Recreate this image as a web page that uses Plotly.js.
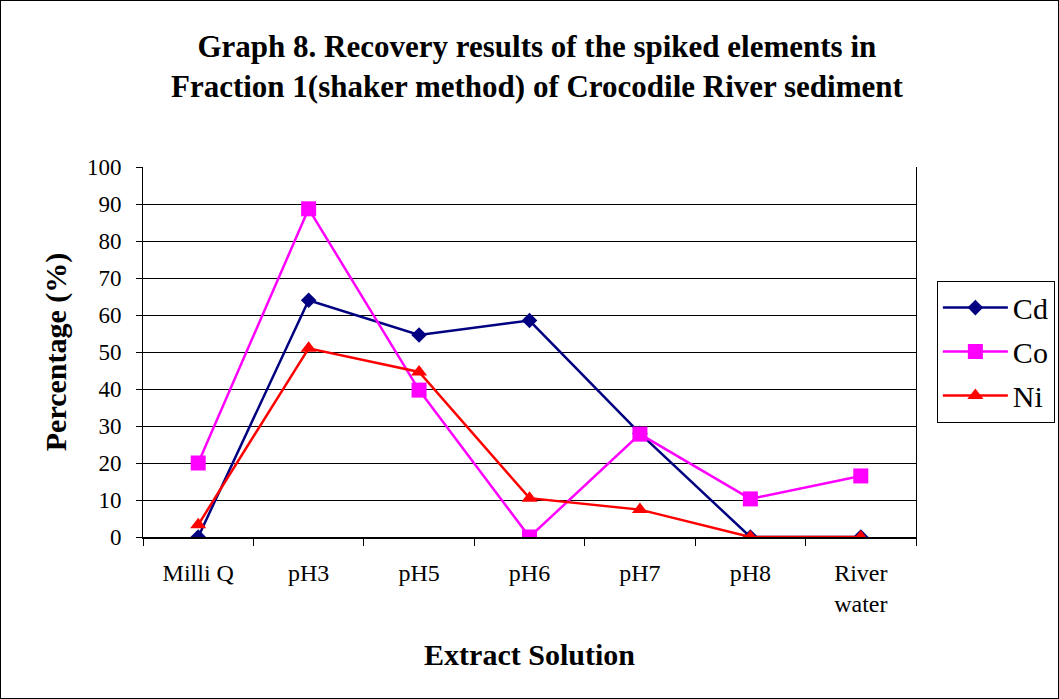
<!DOCTYPE html>
<html>
<head>
<meta charset="utf-8">
<script src="https://cdn.plot.ly/plotly-3.0.1.min.js"></script>
<style>
html,body{margin:0;padding:0;background:#fff;}
#frame{position:absolute;left:0;top:0;width:1057px;height:697px;border:1px solid #000;}
#chart{position:absolute;left:-1px;top:-1px;width:1059px;height:699px;}
</style>
</head>
<body>
<div id="frame"><div id="chart"></div></div>
<script>
const categories = ["Milli Q", "pH3", "pH5", "pH6", "pH7", "pH8", "River<br>water"];
const cd = [0, 64, 54.6, 58.5, 28, 0, 0];
const co = [20, 88.7, 39.7, 0, 27.8, 10.3, 16.5];
const ni = [3.3, 51, 44.6, 10.5, 7.4, 0, 0];

const font = "'Liberation Serif', 'Times New Roman', serif";

const traces = [
  {x: categories, y: cd, name: "Cd", legendgroup: "a", type: "scatter", mode: "lines+markers",
   line: {color: "#000080", width: 2.5}, marker: {symbol: "diamond", size: 12, color: "#000080"}},
  {x: categories, y: co, name: "Co", legendgroup: "b", type: "scatter", mode: "lines+markers",
   line: {color: "#FF00FF", width: 2.5}, marker: {symbol: "square", size: 15, color: "#FF00FF"}},
  {x: categories, y: ni, name: "Ni", legendgroup: "c", type: "scatter", mode: "lines+markers",
   line: {color: "#FF0000", width: 2.5}, marker: {symbol: "triangle-up", size: 14, color: "#FF0000"}}
];

const layout = {
  width: 1059, height: 699,
  paper_bgcolor: "rgba(0,0,0,0)", plot_bgcolor: "#fff",
  margin: {l: 143, r: 143, t: 167, b: 162, autoexpand: false},
  font: {family: font, color: "#000", size: 24},
  title: {text: "<b>Graph 8. Recovery results of the spiked elements in<br>Fraction 1(shaker method) of Crocodile River sediment</b>",
          font: {family: font, size: 31, color: "#000"}, x: 0.507, xanchor: "center", yref: "container", y: 0.919, yanchor: "middle"},
  xaxis: {
    type: "category", range: [-0.5, 6.5],
    showline: true, linecolor: "#000", linewidth: 2,
    ticks: "outside", tickson: "boundaries", ticklen: 7, tickcolor: "#000", tickwidth: 1,
    ticklabelstandoff: 13,
    showgrid: false, zeroline: false,
    tickfont: {family: font, size: 24, color: "#000"},
    title: {text: "<b>Extract Solution</b>", font: {family: font, size: 30, color: "#000"}, standoff: 28}
  },
  yaxis: {
    range: [0, 100], dtick: 10, tick0: 0,
    showline: true, mirror: true, linecolor: "#000", linewidth: 1,
    ticks: "outside", ticklen: 6, tickcolor: "#000",
    ticklabelstandoff: 10,
    showgrid: true, gridcolor: "#000", gridwidth: 1, zeroline: false,
    tickfont: {family: font, size: 23, color: "#000"},
    title: {text: "<b>Percentage (%)</b>", font: {family: font, size: 30, color: "#000"}, standoff: 11}
  },
  legend: {
    x: 1.027, xanchor: "left", y: 0.693, yanchor: "top",
    bordercolor: "#000", borderwidth: 1, bgcolor: "#fff",
    font: {family: font, size: 30, color: "#000"},
    tracegroupgap: 2, itemwidth: 65, valign: "middle"
  },
  showlegend: true
};

Plotly.newPlot("chart", traces, layout, {displayModeBar: false, staticPlot: true});
</script>
</body>
</html>
